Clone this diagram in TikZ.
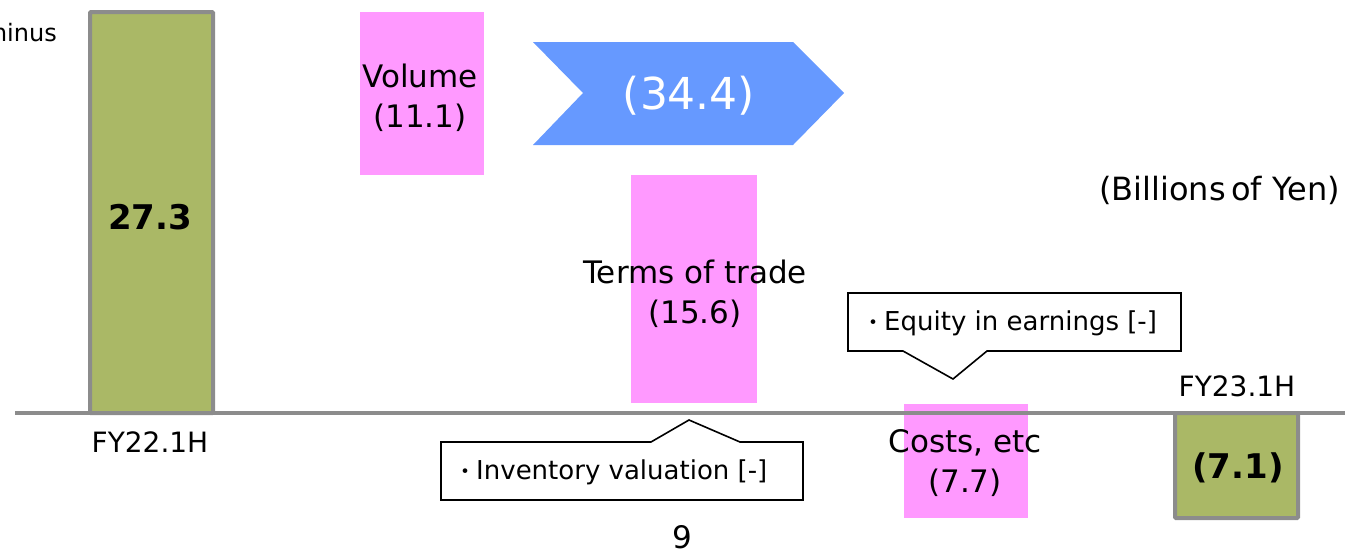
\documentclass[tikz,border=0pt]{standalone}
\usepackage{fontspec}
\setmainfont{DejaVu Sans}
\newfontfamily\cjk{Noto Sans CJK JP}
\newcommand{\jdot}{{\cjk\fontsize{22}{24}\selectfont ・}}
\definecolor{olive}{HTML}{AAB866}
\definecolor{pinkbox}{HTML}{FF99FF}
\definecolor{bluearrow}{HTML}{6699FF}
\definecolor{axisgray}{HTML}{8C8C8C}
\tikzset{
  bar/.style={fill=olive,draw=axisgray,line width=4pt,rounded corners=1pt},
  pinkrect/.style={fill=pinkbox,draw=none},
  callout/.style={draw=black,line width=1.6pt,fill=white,line join=miter},
  lbl/.style={inner sep=0pt,font=\fontsize{28}{34}\selectfont,align=center},
  clbl/.style={inner sep=0pt,font=\fontsize{26}{32}\selectfont,anchor=west},
  biglbl/.style={inner sep=0pt,font=\fontsize{31}{40}\selectfont,align=center},
  boldlbl/.style={inner sep=0pt,font=\fontsize{34}{40}\selectfont\bfseries}
}
\begin{document}
\begin{tikzpicture}[x=1pt,y=-1pt]
\useasboundingbox (0,0) rectangle (1345,552);
% left bar
\draw[bar] (90,12) rectangle (213,413);
% right bar
\draw[bar] (1175,413) rectangle (1298,518);
% pink boxes
\fill[pinkrect] (360,12) rectangle (484,175);
\fill[pinkrect] (631,175) rectangle (757,403);
\fill[pinkrect] (904,404) rectangle (1028,518);
% baseline
\draw[axisgray,line width=4pt] (15,413) -- (1345,413);
% chevron
\fill[bluearrow] (533,42) -- (793,42) -- (844,93) -- (793,145) -- (533,145) -- (583,93) -- cycle;
% callouts
\draw[callout] (848,293) -- (1181,293) -- (1181,351) -- (987,351) -- (953,379) -- (903,351) -- (848,351) -- cycle;
\draw[callout] (441,442) -- (651,442) -- (689,420) -- (740,442) -- (803,442) -- (803,500) -- (441,500) -- cycle;
% texts
\node[inner sep=0pt,font=\fontsize{24}{28}\selectfont,anchor=east] (minus) at (57,33) {minus};
\node[boldlbl] (v273) at (150,217) {27.3};
\node[lbl] (fy22) at (150,442) {FY22.1H};
\node[biglbl] (volume) at (420,98) {Volume\\(11.1)};
\node[inner sep=0pt,font=\fontsize{44}{52}\selectfont,text=white] (total) at (689,96) {(34.4)};
\node[biglbl] (terms) at (695,294) {Terms of trade\\(15.6)};
\node[clbl] (equity) at (862,323) {\jdot Equity in earnings [-]};
\node[clbl] (inventory) at (454,472) {\jdot Inventory valuation [-]};
\node[biglbl] (costs) at (965,463) {Costs, etc\\(7.7)};
\node[lbl] (fy23) at (1237,386) {FY23.1H};
\node[boldlbl] (v71) at (1238,468) {(7.1)};
\node[inner sep=0pt,font=\fontsize{32}{40}\selectfont,anchor=east] (unit) at (1340,190) {(Billions\,of Yen)};
\node[inner sep=0pt,font=\fontsize{31}{40}\selectfont] (page) at (682,537) {9};
\end{tikzpicture}
\end{document}
